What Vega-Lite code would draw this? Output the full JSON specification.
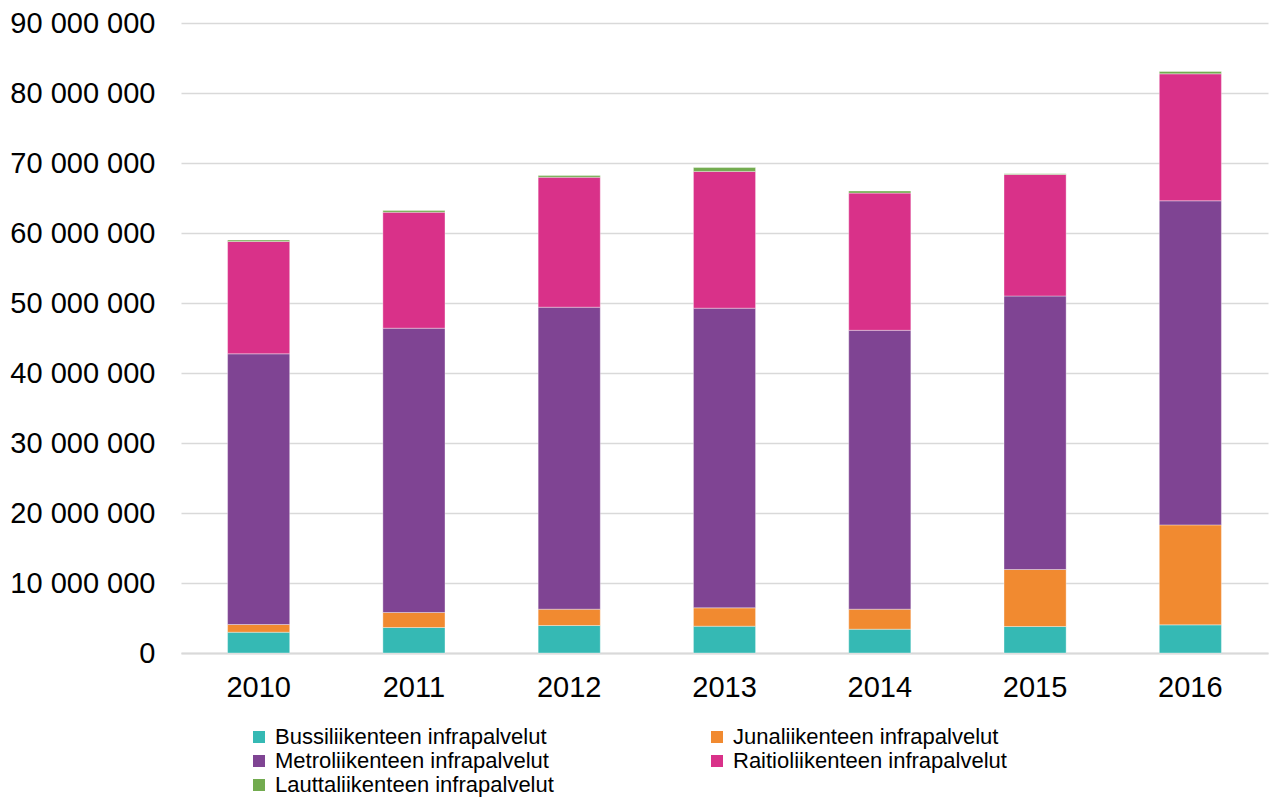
{
  "$schema": "https://vega.github.io/schema/vega-lite/v6.json",
  "width": 1087,
  "height": 630,
  "autosize": {"type": "none"},
  "padding": {"left": 181, "top": 23, "right": 2, "bottom": 147},
  "background": "#ffffff",
  "config": {
    "locale": {"number": {"decimal": ",", "thousands": " ", "grouping": [3], "currency": ["", " €"]}},
    "view": {"stroke": null},
    "font": "Liberation Sans"
  },
  "datasets": {
    "types": [
      {"type": "Bussiliikenteen infrapalvelut", "rank": 1},
      {"type": "Junaliikenteen infrapalvelut", "rank": 2},
      {"type": "Metroliikenteen infrapalvelut", "rank": 3},
      {"type": "Raitioliikenteen infrapalvelut", "rank": 4},
      {"type": "Lauttaliikenteen infrapalvelut", "rank": 5}
    ]
  },
  "data": {
    "values": [
      {"year": "2010", "type": "Bussiliikenteen infrapalvelut", "value": 2970000},
      {"year": "2010", "type": "Junaliikenteen infrapalvelut", "value": 1100000},
      {"year": "2010", "type": "Metroliikenteen infrapalvelut", "value": 38670000},
      {"year": "2010", "type": "Raitioliikenteen infrapalvelut", "value": 16060000},
      {"year": "2010", "type": "Lauttaliikenteen infrapalvelut", "value": 200000},
      {"year": "2011", "type": "Bussiliikenteen infrapalvelut", "value": 3640000},
      {"year": "2011", "type": "Junaliikenteen infrapalvelut", "value": 2150000},
      {"year": "2011", "type": "Metroliikenteen infrapalvelut", "value": 40610000},
      {"year": "2011", "type": "Raitioliikenteen infrapalvelut", "value": 16570000},
      {"year": "2011", "type": "Lauttaliikenteen infrapalvelut", "value": 250000},
      {"year": "2012", "type": "Bussiliikenteen infrapalvelut", "value": 3930000},
      {"year": "2012", "type": "Junaliikenteen infrapalvelut", "value": 2330000},
      {"year": "2012", "type": "Metroliikenteen infrapalvelut", "value": 43140000},
      {"year": "2012", "type": "Raitioliikenteen infrapalvelut", "value": 18570000},
      {"year": "2012", "type": "Lauttaliikenteen infrapalvelut", "value": 250000},
      {"year": "2013", "type": "Bussiliikenteen infrapalvelut", "value": 3830000},
      {"year": "2013", "type": "Junaliikenteen infrapalvelut", "value": 2620000},
      {"year": "2013", "type": "Metroliikenteen infrapalvelut", "value": 42810000},
      {"year": "2013", "type": "Raitioliikenteen infrapalvelut", "value": 19540000},
      {"year": "2013", "type": "Lauttaliikenteen infrapalvelut", "value": 550000},
      {"year": "2014", "type": "Bussiliikenteen infrapalvelut", "value": 3400000},
      {"year": "2014", "type": "Junaliikenteen infrapalvelut", "value": 2860000},
      {"year": "2014", "type": "Metroliikenteen infrapalvelut", "value": 39840000},
      {"year": "2014", "type": "Raitioliikenteen infrapalvelut", "value": 19600000},
      {"year": "2014", "type": "Lauttaliikenteen infrapalvelut", "value": 300000},
      {"year": "2015", "type": "Bussiliikenteen infrapalvelut", "value": 3790000},
      {"year": "2015", "type": "Junaliikenteen infrapalvelut", "value": 8140000},
      {"year": "2015", "type": "Metroliikenteen infrapalvelut", "value": 39070000},
      {"year": "2015", "type": "Raitioliikenteen infrapalvelut", "value": 17360000},
      {"year": "2015", "type": "Lauttaliikenteen infrapalvelut", "value": 100000},
      {"year": "2016", "type": "Bussiliikenteen infrapalvelut", "value": 4020000},
      {"year": "2016", "type": "Junaliikenteen infrapalvelut", "value": 14280000},
      {"year": "2016", "type": "Metroliikenteen infrapalvelut", "value": 46300000},
      {"year": "2016", "type": "Raitioliikenteen infrapalvelut", "value": 18140000},
      {"year": "2016", "type": "Lauttaliikenteen infrapalvelut", "value": 330000}
    ]
  },
  "transform": [
    {"lookup": "type", "from": {"data": {"name": "types"}, "key": "type", "fields": ["rank"]}}
  ],
  "mark": {"type": "bar", "stroke": "#ffffff", "strokeWidth": 0.6, "strokeOpacity": 0.6},
  "encoding": {
    "x": {
      "field": "year",
      "type": "nominal",
      "scale": {"paddingInner": 0.6, "paddingOuter": 0.3},
      "axis": {
        "title": null,
        "labelAngle": 0,
        "labelFont": "Liberation Sans",
        "labelFontSize": 29,
        "labelColor": "#000000",
        "labelPadding": 20,
        "ticks": false,
        "domain": true,
        "domainColor": "#d9d9d9",
        "domainWidth": 2,
        "grid": false
      }
    },
    "y": {
      "field": "value",
      "type": "quantitative",
      "stack": "zero",
      "scale": {"domain": [0, 90000000], "nice": false},
      "axis": {
        "title": null,
        "values": [0, 10000000, 20000000, 30000000, 40000000, 50000000, 60000000, 70000000, 80000000, 90000000],
        "format": ",d",
        "labelFont": "Liberation Sans",
        "labelFontSize": 29,
        "labelColor": "#000000",
        "labelPadding": 26,
        "ticks": false,
        "domain": false,
        "grid": true,
        "gridColor": "#d9d9d9",
        "gridWidth": 1.5
      }
    },
    "color": {
      "field": "type",
      "type": "nominal",
      "sort": ["Bussiliikenteen infrapalvelut", "Junaliikenteen infrapalvelut", "Metroliikenteen infrapalvelut", "Raitioliikenteen infrapalvelut", "Lauttaliikenteen infrapalvelut"],
      "scale": {
        "domain": ["Bussiliikenteen infrapalvelut", "Junaliikenteen infrapalvelut", "Metroliikenteen infrapalvelut", "Raitioliikenteen infrapalvelut", "Lauttaliikenteen infrapalvelut"],
        "range": ["#35B9B4", "#F18A30", "#7F4493", "#D93189", "#72AB4F"]
      },
      "legend": {
        "title": null,
        "orient": "none",
        "legendX": 67,
        "legendY": 703,
        "direction": "horizontal",
        "columns": 2,
        "columnPadding": 152,
        "rowPadding": 2,
        "symbolType": "square",
        "symbolSize": 144,
        "symbolStrokeWidth": 0,
        "symbolOpacity": 1,
        "labelFont": "Liberation Sans",
        "labelFontSize": 22,
        "labelColor": "#000000",
        "labelOffset": 5,
        "labelLimit": 400
      }
    },
    "order": {"field": "rank", "type": "quantitative", "sort": "ascending"}
  }
}
